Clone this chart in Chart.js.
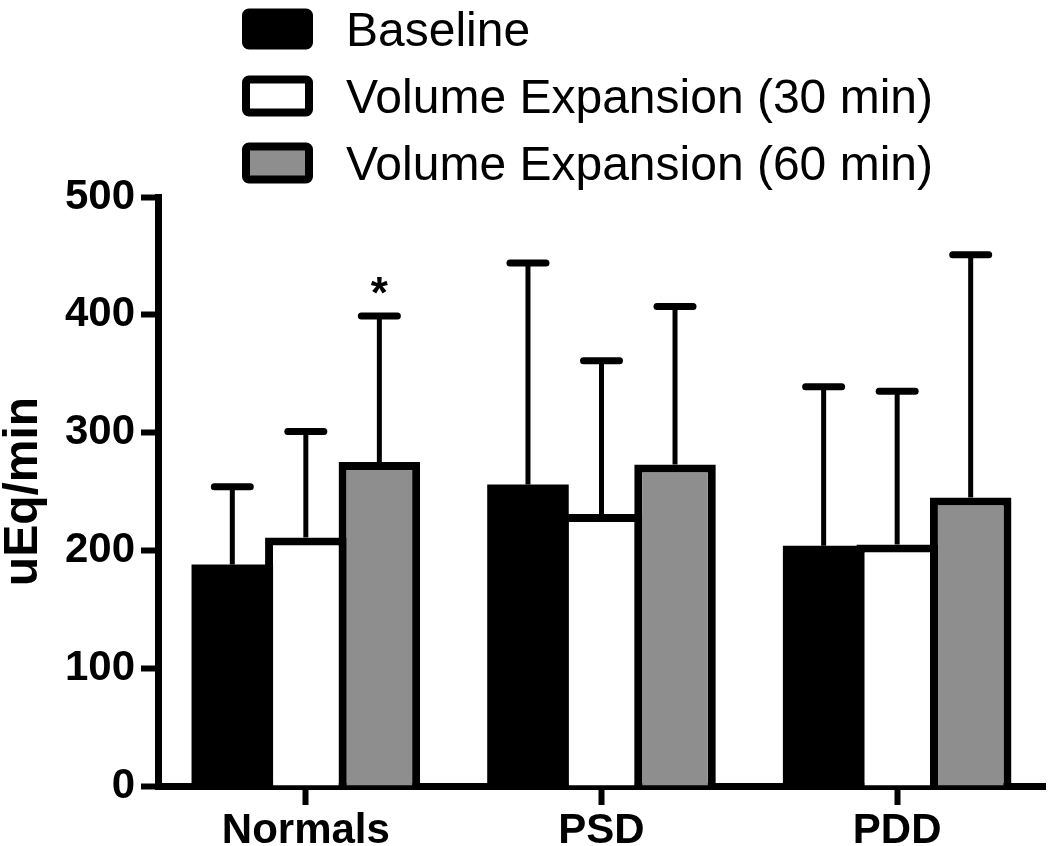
<!DOCTYPE html>
<html><head><meta charset="utf-8">
<script src="https://cdn.jsdelivr.net/npm/chart.js@4.4.1/dist/chart.umd.min.js"></script>
<style>html,body{margin:0;padding:0;background:#fff;} #wrap{width:1050px;height:846px;position:relative;}</style>
</head><body><div id="wrap"><canvas id="c" width="1050" height="846"></canvas></div>
<script>
const categories = ['Normals', 'PSD', 'PDD'];
const seriesLabels = ['Baseline', 'Volume Expansion (30 min)', 'Volume Expansion (60 min)'];
const baselineMean = [188, 256, 204];
const baselineUpper = [254, 444, 339];
const ve30Mean = [211, 231, 205];
const ve30Upper = [301, 361, 335];
const ve60Mean = [275, 273, 245];
const ve60Upper = [399, 407, 451];
const ve60Marks = ['*', '', ''];
const yTicks = [0, 100, 200, 300, 400, 500];
const yTitle = 'uEq/min';

const FONT = "'Liberation Sans', Arial, Helvetica, sans-serif";
const fills = ['#000000', '#ffffff', '#8e8e8e'];
const borders = [0, 8, 8];
const uppers = [baselineUpper, ve30Upper, ve60Upper];
const marks = [[], [], ve60Marks];

const errorBarPlugin = {
  id: 'errorBars',
  afterDatasetsDraw(chart) {
    const ctx = chart.ctx;
    const ys = chart.scales.y;
    ctx.save();
    ctx.strokeStyle = '#000';
    ctx.fillStyle = '#000';
    chart.data.datasets.forEach((ds, di) => {
      const meta = chart.getDatasetMeta(di);
      meta.data.forEach((bar, i) => {
        const up = uppers[di][i];
        const yTop = bar.y;
        const yErr = ys.getPixelForValue(up);
        ctx.lineCap = 'butt';
        ctx.lineWidth = 5;
        ctx.beginPath();
        ctx.moveTo(bar.x, yTop);
        ctx.lineTo(bar.x, yErr);
        ctx.stroke();
        ctx.lineCap = 'round';
        ctx.lineWidth = 7;
        ctx.beginPath();
        ctx.moveTo(bar.x - 18, yErr);
        ctx.lineTo(bar.x + 18, yErr);
        ctx.stroke();
        const m = marks[di][i];
        if (m) {
          ctx.font = 'bold 44px ' + FONT;
          ctx.textAlign = 'center';
          ctx.textBaseline = 'alphabetic';
          ctx.fillText(m, bar.x, yErr - 8);
        }
      });
    });
    ctx.restore();
  }
};

const legendPlugin = {
  id: 'customLegend',
  afterDraw(chart) {
    const ctx = chart.ctx;
    ctx.save();
    chart.data.datasets.forEach((ds, i) => {
      const cy = 29 + i * 67;
      const bx = 246, bw = 63, bh = 33;
      ctx.beginPath();
      ctx.roundRect(bx, cy - bh / 2, bw, bh, 3);
      ctx.fillStyle = ds.backgroundColor;
      ctx.fill();
      ctx.lineWidth = 8;
      ctx.strokeStyle = '#000';
      ctx.stroke();
      ctx.fillStyle = '#000';
      ctx.font = '48px ' + FONT;
      ctx.textAlign = 'left';
      ctx.textBaseline = 'alphabetic';
      ctx.fillText(ds.label, 346, cy + 17);
    });
    ctx.restore();
  }
};

const datasets = [baselineMean, ve30Mean, ve60Mean].map((vals, i) => ({
  label: seriesLabels[i],
  data: vals,
  backgroundColor: fills[i],
  borderColor: '#000',
  borderWidth: borders[i],
  borderSkipped: 'start',
  categoryPercentage: 0.746,
  barPercentage: 1.109
}));

new Chart(document.getElementById('c'), {
  type: 'bar',
  data: { labels: categories, datasets },
  options: {
    responsive: false,
    animation: false,
    devicePixelRatio: 1,
    layout: { padding: { top: 197, right: 5, bottom: 0, left: 0 } },
    plugins: { legend: { display: false }, tooltip: { enabled: false } },
    scales: {
      x: {
        offset: true,
        grid: { display: true, drawOnChartArea: false, drawTicks: true, tickLength: 19, tickWidth: 6, tickColor: '#000', offset: false },
        border: { display: true, width: 7, color: '#000' },
        ticks: { color: '#000', padding: 1, font: { family: FONT, weight: 'bold', size: 42 } },
        afterFit(s) { s.height = 60; }
      },
      y: {
        min: 0, max: 500,
        afterBuildTicks(s) { s.ticks = yTicks.map(v => ({ value: v })); },
        grid: { display: true, drawOnChartArea: false, drawTicks: true, tickLength: 17, tickWidth: 6, tickColor: '#000' },
        border: { display: true, width: 7, color: '#000' },
        ticks: { color: '#000', padding: 6, font: { family: FONT, weight: 'bold', size: 42 } },
        title: { display: true, text: yTitle, color: '#000', padding: { top: 0, bottom: 0 }, font: { family: FONT, weight: 'bold', size: 48, lineHeight: 1 } },
        afterFit(s) { s.width = 158; }
      }
    }
  },
  plugins: [errorBarPlugin, legendPlugin]
});
</script></body></html>
